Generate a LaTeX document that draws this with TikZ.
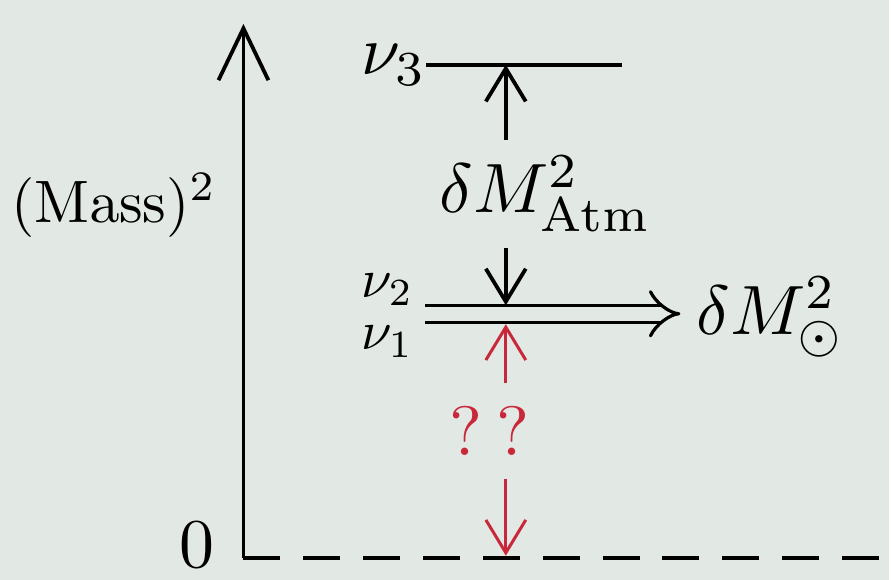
\documentclass[tikz,border=0pt]{standalone}
\usetikzlibrary{arrows.meta}
\definecolor{paper}{HTML}{E2E8E4}
\definecolor{qred}{HTML}{C9283A}
\begin{document}
\begin{tikzpicture}[x=1pt, y=-1pt, font=\normalsize, line width=3.8pt,
  >={Straight Barb[length=33pt, width=40pt]},
  lbl/.style={scale=7, inner sep=0.4pt}]
\fill[paper] (0,0) rectangle (891,581);
% axis and zero line
\coordinate (o) at (244,559);
\coordinate (t) at (244,24);
\coordinate (e) at (891,559);
\draw[->, >={Straight Barb[length=52pt, width=50pt]}] (o) -- (t);
\draw[line width=4.2pt, dash pattern=on 37pt off 23pt] (o) -- (e);
\node[lbl] (zero) at (197,546) {0};
\node[lbl, scale=6/7, anchor=base] (mass) at (114,223) {$(\mathrm{Mass})^2$};
% levels
\coordinate (n3l) at (427,65);
\coordinate (n3r) at (623,65);
\draw (n3l) -- (n3r);
\node[lbl, anchor=base west] (nu3) at (346,75) {$\nu_3$};
\node[lbl, scale=5.5/7, anchor=base west] (nu2) at (350,298) {$\nu_2$};
\node[lbl, scale=5.5/7, anchor=base west] (nu1) at (350,350) {$\nu_1$};
\node[lbl, anchor=base west] (sol) at (682,335) {$\delta M^{2}_{\odot}$};
\coordinate (d) at (426,314.5);
\draw[line width=3.2pt, double=paper, double distance=13.5pt, -{Implies}] (d) -- (sol.west |- d);
% atmospheric gap
\coordinate (a3) at (507,65);
\coordinate (a2) at (507,306);
\node[lbl, anchor=base] (atm) at (547,213) {$\delta M^2_{\mathrm{Atm}}$};
\draw[->] (atm.north -| a3) -- (a3);
\draw[->] (atm.south -| a2) -- (a2);
% unknown offset
\coordinate (r1) at (507,325);
\coordinate (r0) at (507,557);
\node[lbl, qred, inner ysep=1.4pt] (qq) at (491,432) {?\hspace{2pt}?};
\draw[qred, line width=3pt, ->] (qq.north -| r1) -- (r1);
\draw[qred, line width=3pt, ->] (qq.south -| r0) -- (r0);
\end{tikzpicture}
\end{document}
